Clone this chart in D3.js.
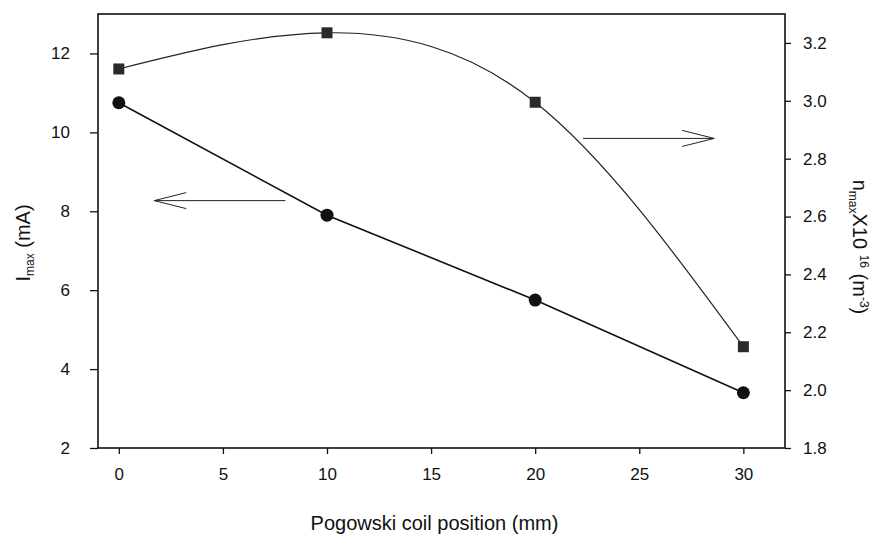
<!DOCTYPE html>
<meta charset="utf-8">
<html>
<head>
  <title>Pogowski coil position</title>
  <style>
    body { margin: 0; background: #fff; }
    svg { width: 876px; height: 536px; display: block; }
    text { font-family: 'Liberation Sans', Arial, sans-serif; fill: #111; }
    .tick text { font-size: 17px; }
    .axislabel { font-size: 20px; }
  </style>
  <script src="https://d3js.org/d3.v7.min.js"></script>
</head>
<body>
  <svg></svg>
  <script>
    // data
    var positions = [0, 10, 20, 30];
    var currentMax = [10.75, 7.9, 5.75, 3.4];      // I_max (mA), left axis
    var densityMax = [3.11, 3.235, 2.995, 2.15];   // n_max x10^16 (m^-3), right axis
    var xTicks = [0, 5, 10, 15, 20, 25, 30];
    var leftTicks = [2, 4, 6, 8, 10, 12];
    var rightTicks = [1.8, 2.0, 2.2, 2.4, 2.6, 2.8, 3.0, 3.2];

    var svg = d3.select("svg");
    var margin = {top: 14, right: 91, bottom: 88, left: 98};
    var width = 876 - margin.left - margin.right;
    var height = 536 - margin.top - margin.bottom;

    var g = svg.append("g")
      .attr("transform", "translate(" + margin.left + "," + margin.top + ")");

    var x = d3.scaleLinear().domain([-1, 32]).range([0, width]);
    var yLeft = d3.scaleLinear().domain([2, 13]).range([height, 0]);
    var yRight = d3.scaleLinear().domain([1.8, 3.3]).range([height, 0]);

    // axes
    var xAxis = g.append("g")
      .attr("transform", "translate(0," + height + ")")
      .call(d3.axisBottom(x).tickValues(xTicks).tickSize(6).tickPadding(14).tickFormat(d3.format("d")));
    var lAxis = g.append("g")
      .call(d3.axisLeft(yLeft).tickValues(leftTicks).tickSize(8).tickPadding(20).tickFormat(d3.format("d")));
    var rAxis = g.append("g")
      .attr("transform", "translate(" + width + ",0)")
      .call(d3.axisRight(yRight).tickValues(rightTicks).tickSize(6).tickPadding(12).tickFormat(d3.format(".1f")));

    [xAxis, lAxis, rAxis].forEach(function(a) {
      a.select(".domain").remove();
      a.selectAll("line").attr("stroke", "#111").attr("stroke-width", 1.3);
    });

    // frame
    g.append("rect")
      .attr("width", width).attr("height", height)
      .attr("fill", "none").attr("stroke", "#111").attr("stroke-width", 1.6);

    // density curve (smooth) with squares
    var densityLine = d3.line()
      .x(function(d, i) { return x(positions[i]); })
      .y(function(d) { return yRight(d); })
      .curve(d3.curveNatural);
    g.append("path")
      .datum(densityMax)
      .attr("d", densityLine)
      .attr("fill", "none").attr("stroke", "#222").attr("stroke-width", 1.2);

    // current line (straight) with circles
    var currentLine = d3.line()
      .x(function(d, i) { return x(positions[i]); })
      .y(function(d) { return yLeft(d); });
    g.append("path")
      .datum(currentMax)
      .attr("d", currentLine)
      .attr("fill", "none").attr("stroke", "#111").attr("stroke-width", 1.6);

    g.selectAll(".sq")
      .data(densityMax)
      .enter().append("rect")
        .attr("class", "sq")
        .attr("x", function(d, i) { return x(positions[i]) - 5.5; })
        .attr("y", function(d) { return yRight(d) - 5.5; })
        .attr("width", 11).attr("height", 11)
        .attr("fill", "#2a2a2a");

    g.selectAll(".dot")
      .data(currentMax)
      .enter().append("circle")
        .attr("class", "dot")
        .attr("cx", function(d, i) { return x(positions[i]); })
        .attr("cy", function(d) { return yLeft(d); })
        .attr("r", 6.5)
        .attr("fill", "#111");

    // arrows pointing to the axis each curve belongs to
    function arrow(x0, x1, y) {
      var dir = x1 > x0 ? -1 : 1;
      g.append("line")
        .attr("x1", x0).attr("x2", x1).attr("y1", y).attr("y2", y)
        .attr("stroke", "#222").attr("stroke-width", 1);
      g.append("polyline")
        .attr("points", [[x1 + dir * 32, y - 8], [x1, y], [x1 + dir * 32, y + 8]].join(" "))
        .attr("fill", "none").attr("stroke", "#222").attr("stroke-width", 1);
    }
    arrow(x(8.0), x(1.7), yLeft(8.27));
    arrow(x(22.3), x(28.6), yRight(2.87));

    // axis labels
    g.append("text")
      .attr("class", "axislabel")
      .attr("x", width / 2 - 7).attr("y", height + 82)
      .attr("text-anchor", "middle")
      .text("Pogowski coil position (mm)");

    var lLab = g.append("text")
      .attr("class", "axislabel")
      .attr("transform", "translate(" + (-68) + "," + (height / 2 + 12) + ") rotate(-90)")
      .attr("text-anchor", "middle");
    lLab.append("tspan").text("I");
    lLab.append("tspan").attr("font-size", "12px").attr("baseline-shift", "-35%").text("max");
    lLab.append("tspan").text(" (mA)");

    var rLab = g.append("text")
      .attr("class", "axislabel")
      .attr("transform", "translate(" + (width + 68) + "," + (height / 2 + 16) + ") rotate(90)")
      .attr("text-anchor", "middle");
    rLab.append("tspan").text("n");
    rLab.append("tspan").attr("font-size", "12px").attr("baseline-shift", "-35%").text("max");
    rLab.append("tspan").text("X10 ");
    rLab.append("tspan").attr("font-size", "12px").attr("baseline-shift", "super").text("16");
    rLab.append("tspan").text(" (m");
    rLab.append("tspan").attr("font-size", "12px").attr("baseline-shift", "super").text("-3");
    rLab.append("tspan").text(")");
  </script>
</body>
</html>
